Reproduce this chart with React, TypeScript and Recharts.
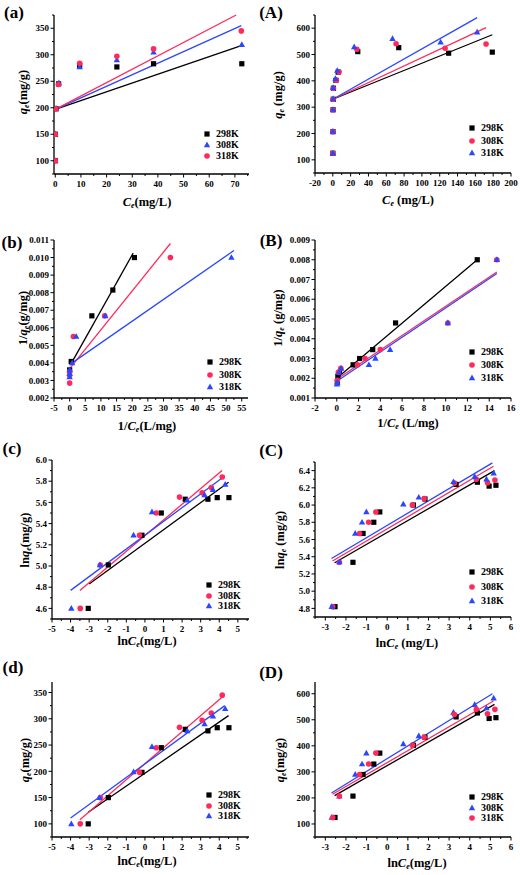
import React from 'react'
import { ScatterChart, Scatter, XAxis, YAxis, ReferenceLine, Legend } from 'recharts'

const FONT = '"Times New Roman", "Liberation Serif", serif'
const K = '#000000'
const R = '#ff2a5a'
const B = '#2a46ff'

// (a) qe vs Ce, first adsorbent
const aCe298 = [0, 0, 0.3, 1.3, 9.5, 24, 38.3, 72.7]
const aQe298 = [100, 150, 198, 245, 280, 277, 283, 283]
const aCe308 = [0, 0, 0.3, 1.4, 9.5, 24, 38.3, 72.7]
const aQe308 = [100, 150, 199, 247, 277, 290, 305, 319]
const aCe318 = [0, 0, 0.2, 1.2, 9.5, 24, 38.3, 72.5]
const aQe318 = [100, 150, 198, 244, 284, 297, 311, 345]
const aFit298 = [0, 197, 72.5, 317]
const aFit308 = [0, 197, 72.5, 355]
const aFit318 = [0, 197, 70.5, 375]

// (A) qe vs Ce, second adsorbent
const ACe298 = [0.08, 0.19, 0.3, 0.5, 0.7, 3.5, 6, 28, 74, 130, 179]
const AQe298 = [125, 207, 290, 330, 372, 402, 433, 511, 526, 505, 509]
const ACe308 = [0.07, 0.1, 0.26, 0.39, 0.55, 4, 7, 27, 71, 126, 172]
const AQe308 = [125, 207, 290, 330, 372, 402, 434, 520, 541, 524, 540]
const ACe318 = [0.07, 0.1, 0.2, 0.29, 0.35, 3, 5, 24, 67, 121, 162]
const AQe318 = [125, 208, 291, 332, 374, 408, 439, 529, 560, 547, 585]
const AFit298 = [0, 330, 179, 575]
const AFit308 = [0, 330, 172, 602]
const AFit318 = [0, 330, 162, 640]

// (b) Langmuir 1/qe vs 1/Ce
const bX298 = [0, 0.5, 7.1, 13.8, 20.7]
const bY298 = [0.0036, 0.00408, 0.00668, 0.00815, 0.01]
const bX308 = [0, 0, 0, 1.2, 11.2, 32.2]
const bY308 = [0.00285, 0.0033, 0.0035, 0.0055, 0.00668, 0.01]
const bX318 = [0, 0, 0, 0.8, 2.1, 11.4, 51.7]
const bY318 = [0.0032, 0.0034, 0.0036, 0.004, 0.0055, 0.00668, 0.01]
const bFit298 = [0.3, 0.0039, 20.3, 0.01025]
const bFit308 = [0, 0.00367, 32.2, 0.0108]
const bFit318 = [0, 0.0039, 52.5, 0.0104]

// (B)
const BX298 = [0.05, 0.1, 0.25, 1.5, 2.1, 3.3, 5.4, 12.9]
const BY298 = [0.0018, 0.0021, 0.0023, 0.00268, 0.003, 0.00345, 0.0048, 0.008]
const BX308 = [0.05, 0.15, 0.37, 1.9, 2.6, 4, 10.2, 14.7]
const BY308 = [0.0019, 0.0023, 0.0025, 0.00268, 0.003, 0.00345, 0.0048, 0.008]
const BX318 = [0.02, 0.05, 0.2, 0.4, 2.95, 3.55, 4.9, 10.2, 14.7]
const BY318 = [0.0017, 0.0018, 0.0023, 0.0025, 0.00268, 0.003, 0.00345, 0.0048, 0.008]
const BFit298 = [0, 0.002, 12.9, 0.008]
const BFit308 = [0, 0.00195, 14.7, 0.00738]
const BFit318 = [0, 0.00185, 14.7, 0.0073]

// (c) Freundlich lnqe vs lnCe
const cX298 = [-3.05, -1.97, -0.16, 0.88, 2.17, 3.39, 3.89, 4.52]
const cY298 = [4.6, 5.01, 5.29, 5.5, 5.63, 5.63, 5.645, 5.645]
const cX308 = [-3.48, -2.4, -0.29, 0.61, 1.86, 3.08, 3.57, 4.16]
const cY308 = [4.6, 5.01, 5.29, 5.5, 5.65, 5.69, 5.74, 5.84]
const cX318 = [-3.96, -2.42, -0.61, 0.38, 2.28, 3.21, 3.66, 4.32]
const cY318 = [4.6, 5.01, 5.29, 5.51, 5.62, 5.67, 5.72, 5.77]
const cFit298 = [-3, 4.83, 4.5, 5.79]
const cFit308 = [-3.5, 4.77, 4.15, 5.9]
const cFit318 = [-4, 4.77, 4.3, 5.85]

// (C)
const CX298 = [-2.53, -1.66, -1.17, -0.65, -0.36, 1.27, 1.83, 3.34, 4.37, 4.94, 5.27]
const CY298 = [4.82, 5.335, 5.67, 5.8, 5.92, 6, 6.07, 6.24, 6.265, 6.22, 6.23]
const CX308 = [-2.64, -2.32, -1.34, -0.9, -0.55, 1.22, 1.79, 3.26, 4.32, 4.86, 5.22]
const CY308 = [4.82, 5.335, 5.67, 5.8, 5.92, 6, 6.075, 6.255, 6.3, 6.26, 6.29]
const CX318 = [-2.69, -2.32, -1.55, -1.22, -1.01, 0.78, 1.53, 3.21, 4.24, 4.81, 5.16]
const CY318 = [4.82, 5.34, 5.67, 5.8, 5.92, 6.01, 6.09, 6.27, 6.33, 6.3, 6.37]
const CFit298 = [-2.55, 5.33, 5.2, 6.4]
const CFit308 = [-2.65, 5.35, 5.15, 6.45]
const CFit318 = [-2.7, 5.38, 5.1, 6.49]

// (d) Temkin qe vs lnCe
const dX298 = [-3.05, -1.97, -0.16, 0.88, 2.17, 3.39, 3.89, 4.52]
const dY298 = [100, 150, 198, 245, 280, 277, 283, 283]
const dX308 = [-3.48, -2.4, -0.29, 0.61, 1.86, 3.08, 3.57, 4.16]
const dY308 = [100, 150, 198, 245, 284, 297, 311, 345]
const dX318 = [-3.96, -2.45, -0.61, 0.38, 2.28, 3.21, 3.66, 4.32]
const dY318 = [100, 150, 199, 247, 277, 290, 305, 319]
const dFit298 = [-3.05, 122, 4.5, 306]
const dFit308 = [-3.5, 108, 4.15, 341]
const dFit318 = [-4, 111, 4.3, 325]

// (D)
const DX298 = [-2.53, -1.66, -1.17, -0.65, -0.36, 1.27, 1.83, 3.34, 4.37, 4.94, 5.27]
const DY298 = [125, 207, 290, 330, 372, 402, 433, 511, 526, 505, 508]
const DX308 = [-2.69, -2.32, -1.55, -1.22, -1.01, 0.78, 1.53, 3.21, 4.24, 4.81, 5.16]
const DY308 = [125, 207, 290, 330, 372, 407, 438, 528, 558, 545, 583]
const DX318 = [-2.64, -2.32, -1.34, -0.9, -0.55, 1.22, 1.79, 3.26, 4.32, 4.86, 5.22]
const DY318 = [125, 207, 290, 330, 372, 402, 433, 520, 540, 523, 540]
const DFit298 = [-2.55, 209, 5.2, 559]
const DFit308 = [-2.7, 219, 5.1, 600]
const DFit318 = [-2.65, 214, 5.15, 572]

// tick labels
const aXTicks = [0, 10, 20, 30, 40, 50, 60, 70]
const qTicksA = [100, 150, 200, 250, 300, 350]
const AXTicks = [-20, 0, 20, 40, 60, 80, 100, 120, 140, 160, 180, 200]
const qTicksB = [100, 200, 300, 400, 500, 600]
const bXTicks = [-5, 0, 5, 10, 15, 20, 25, 30, 35, 40, 45, 50, 55]
const bYTicks = [0.002, 0.003, 0.004, 0.005, 0.006, 0.007, 0.008, 0.009, 0.01, 0.011]
const BXTicks = [-2, 0, 2, 4, 6, 8, 10, 12, 14, 16]
const BYTicks = [0.001, 0.002, 0.003, 0.004, 0.005, 0.006, 0.007, 0.008, 0.009]
const lnXTicksA = [-5, -4, -3, -2, -1, 0, 1, 2, 3, 4, 5]
const lnXTicksB = [-3, -2, -1, 0, 1, 2, 3, 4, 5, 6]
const cYTicks = [4.6, 4.8, 5.0, 5.2, 5.4, 5.6, 5.8, 6.0]
const CYTicks = [4.8, 5.0, 5.2, 5.4, 5.6, 5.8, 6.0, 6.2, 6.4]

type Shape = 'square' | 'circle' | 'triangle'
type Ser = { name: string; color: string; shape: Shape; xs: number[]; ys: number[] }

const ML = 50
const MT = 12
const MR = 12
const MB = 34

function Mark({ cx, cy, shape, color }: { cx: number; cy: number; shape: Shape; color: string }) {
  if (shape === 'square') return <rect x={cx - 2.6} y={cy - 2.6} width={5.2} height={5.2} fill={color} />
  if (shape === 'circle') return <circle cx={cx} cy={cy} r={2.8} fill={color} />
  return <path d={`M${cx},${cy - 3.4}L${cx + 3.2},${cy + 2.3}L${cx - 3.2},${cy + 2.3}Z`} fill={color} />
}

// minor ticks halfway between the majors, plus one step past each end if it fits
function withMinor(ticks: number[], domain: number[]) {
  const step = ticks[1] - ticks[0]
  const out: number[] = []
  const first = ticks[0] - step / 2
  if (first >= domain[0] - 1e-9) out.push(first)
  ticks.forEach((t, i) => {
    out.push(t)
    out.push(i < ticks.length - 1 ? (t + ticks[i + 1]) / 2 : t + step / 2)
  })
  if (out[out.length - 1] > domain[1] + 1e-9) out.pop()
  return out.map((v) => +v.toPrecision(10))
}

const isMajor = (v: number, majors: number[]) => majors.some((m) => Math.abs(m - v) < 1e-9)

function Title({ x, y, pre, v, post, rot }: any) {
  return (
    <text
      x={x} y={y} textAnchor="middle" dominantBaseline="central"
      transform={rot ? `rotate(-90 ${x} ${y})` : undefined}
      fontFamily={FONT} fontWeight="bold" fontSize={12.5} fill="#000"
    >
      {pre}
      <tspan fontStyle="italic">{v}</tspan>
      <tspan fontStyle="italic" fontSize={8} dy={3}>e</tspan>
      <tspan dy={-3}>{post}</tspan>
    </text>
  )
}

type Cfg = {
  tag: string; tagX: number; tagY: number
  box: number[]
  xDomain: number[]; yDomain: number[]
  xTicks: number[]; yTicks: number[]; yDec: number
  series: Ser[]
  fits: [string, number[]][]
  legend: number[]
  xTitle: any[]; yTitle: any[]
}

const panels: Cfg[] = [
  {
    tag: '(a)', tagX: 14, tagY: 12, box: [54, 15, 249, 174],
    xDomain: [-0.5, 75.5], yDomain: [75, 375], xTicks: aXTicks, yTicks: qTicksA, yDec: 0,
    series: [
      { name: '298K', color: K, shape: 'square', xs: aCe298, ys: aQe298 },
      { name: '308K', color: B, shape: 'triangle', xs: aCe308, ys: aQe308 },
      { name: '318K', color: R, shape: 'circle', xs: aCe318, ys: aQe318 },
    ],
    fits: [[K, aFit298], [B, aFit308], [R, aFit318]],
    legend: [207, 134, 11],
    xTitle: ['', 'C', '(mg/L)', 147, 202], yTitle: ['', 'q', '(mg/g)', 23, 92],
  },
  {
    tag: '(A)', tagX: 271, tagY: 12, box: [315, 15, 511, 173],
    xDomain: [-20, 200], yDomain: [50, 650], xTicks: AXTicks, yTicks: qTicksB, yDec: 0,
    series: [
      { name: '298K', color: K, shape: 'square', xs: ACe298, ys: AQe298 },
      { name: '308K', color: R, shape: 'circle', xs: ACe308, ys: AQe308 },
      { name: '318K', color: B, shape: 'triangle', xs: ACe318, ys: AQe318 },
    ],
    fits: [[K, AFit298], [R, AFit308], [B, AFit318]],
    legend: [472, 128, 12.5],
    xTitle: ['', 'C', ' (mg/L)', 408, 200], yTitle: ['', 'q', ' (mg/g)', 278, 95],
  },
  {
    tag: '(b)', tagX: 12, tagY: 242, box: [54, 240, 248, 398],
    xDomain: [-5, 57], yDomain: [0.002, 0.011], xTicks: bXTicks, yTicks: bYTicks, yDec: 3,
    series: [
      { name: '298K', color: K, shape: 'square', xs: bX298, ys: bY298 },
      { name: '308K', color: R, shape: 'circle', xs: bX308, ys: bY308 },
      { name: '318K', color: B, shape: 'triangle', xs: bX318, ys: bY318 },
    ],
    fits: [[K, bFit298], [R, bFit308], [B, bFit318]],
    legend: [210, 362, 12.5],
    xTitle: ['1/', 'C', '(L/mg)', 147, 426], yTitle: ['1/', 'q', '(g/mg)', 23, 318],
  },
  {
    tag: '(B)', tagX: 271, tagY: 240, box: [315, 240, 511, 398],
    xDomain: [-2, 16], yDomain: [0.001, 0.009], xTicks: BXTicks, yTicks: BYTicks, yDec: 3,
    series: [
      { name: '298K', color: K, shape: 'square', xs: BX298, ys: BY298 },
      { name: '308K', color: R, shape: 'circle', xs: BX308, ys: BY308 },
      { name: '318K', color: B, shape: 'triangle', xs: BX318, ys: BY318 },
    ],
    fits: [[K, BFit298], [R, BFit308], [B, BFit318]],
    legend: [472, 352, 13],
    xTitle: ['1/', 'C', ' (L/mg)', 408, 423], yTitle: ['1/', 'q', ' (g/mg)', 278, 318],
  },
  {
    tag: '(c)', tagX: 12, tagY: 448, box: [52, 460, 249, 619],
    xDomain: [-5, 5.6], yDomain: [4.5, 6.0], xTicks: lnXTicksA, yTicks: cYTicks, yDec: 1,
    series: [
      { name: '298K', color: K, shape: 'square', xs: cX298, ys: cY298 },
      { name: '308K', color: R, shape: 'circle', xs: cX308, ys: cY308 },
      { name: '318K', color: B, shape: 'triangle', xs: cX318, ys: cY318 },
    ],
    fits: [[K, cFit298], [R, cFit308], [B, cFit318]],
    legend: [209, 585, 10.5],
    xTitle: ['ln', 'C', '(mg/L)', 147, 641], yTitle: ['ln', 'q', '(mg/g)', 25, 540],
  },
  {
    tag: '(C)', tagX: 271, tagY: 450, box: [315, 462, 511, 617],
    xDomain: [-3.5, 6], yDomain: [4.7, 6.5], xTicks: lnXTicksB, yTicks: CYTicks, yDec: 1,
    series: [
      { name: '298K', color: K, shape: 'square', xs: CX298, ys: CY298 },
      { name: '308K', color: R, shape: 'circle', xs: CX308, ys: CY308 },
      { name: '318K', color: B, shape: 'triangle', xs: CX318, ys: CY318 },
    ],
    fits: [[K, CFit298], [R, CFit308], [B, CFit318]],
    legend: [472, 572, 14.5],
    xTitle: ['ln', 'C', ' (mg/L)', 407, 643], yTitle: ['ln', 'q', ' (mg/g)', 280, 540],
  },
  {
    tag: '(d)', tagX: 13, tagY: 667, box: [52, 682, 249, 837],
    xDomain: [-5, 5.6], yDomain: [75, 370], xTicks: lnXTicksA, yTicks: qTicksA, yDec: 0,
    series: [
      { name: '298K', color: K, shape: 'square', xs: dX298, ys: dY298 },
      { name: '308K', color: R, shape: 'circle', xs: dX308, ys: dY308 },
      { name: '318K', color: B, shape: 'triangle', xs: dX318, ys: dY318 },
    ],
    fits: [[K, dFit298], [R, dFit308], [B, dFit318]],
    legend: [209, 795, 10.5],
    xTitle: ['ln', 'C', '(mg/L)', 147, 861], yTitle: ['', 'q', '(mg/g)', 25, 760],
  },
  {
    tag: '(D)', tagX: 271, tagY: 672, box: [315, 682, 511, 837],
    xDomain: [-3.5, 6], yDomain: [50, 645], xTicks: lnXTicksB, yTicks: qTicksB, yDec: 0,
    series: [
      { name: '298K', color: K, shape: 'square', xs: DX298, ys: DY298 },
      { name: '308K', color: B, shape: 'triangle', xs: DX308, ys: DY308 },
      { name: '318K', color: R, shape: 'circle', xs: DX318, ys: DY318 },
    ],
    fits: [[K, DFit298], [B, DFit308], [R, DFit318]],
    legend: [472, 797, 10.5],
    xTitle: ['ln', 'C', '(mg/L)', 417, 863], yTitle: ['', 'q', '(mg/g)', 280, 760],
  },
]

function Panel({ p }: { p: Cfg }) {
  const [l, t, r, b] = p.box
  const w = r - l
  const h = b - t
  const ox = l - ML
  const oy = t - MT
  const xAll = withMinor(p.xTicks, p.xDomain)
  const yAll = withMinor(p.yTicks, p.yDomain)
  const base = MT + h
  const txt = { fontFamily: FONT, fontWeight: 'bold' as const, fontSize: 9, fill: '#000' }

  const xTick = (tp: any) => {
    const v = tp.payload.value
    const major = isMajor(v, p.xTicks)
    return (
      <g>
        <line x1={tp.x} x2={tp.x} y1={base} y2={base + (major ? 3.5 : 2)} stroke="#000" strokeWidth={1} />
        {major && <text x={tp.x} y={base + 12.5} textAnchor="middle" {...txt}>{String(v)}</text>}
      </g>
    )
  }
  const yTick = (tp: any) => {
    const v = tp.payload.value
    const major = isMajor(v, p.yTicks)
    return (
      <g>
        <line x1={ML} x2={ML - (major ? 3.5 : 2)} y1={tp.y} y2={tp.y} stroke="#000" strokeWidth={1} />
        {major && <text x={ML - 5} y={tp.y + 3.2} textAnchor="end" {...txt}>{v.toFixed(p.yDec)}</text>}
      </g>
    )
  }

  const [lx, ly, gap] = p.legend
  const legend = () => (
    <div style={{ fontFamily: FONT, fontWeight: 'bold', fontSize: 10, color: '#000' }}>
      {p.series.map((s) => (
        <div key={s.name} style={{ display: 'flex', alignItems: 'center', height: gap }}>
          <svg width={10} height={8} style={{ display: 'block' }}>
            <Mark cx={5} cy={4} shape={s.shape} color={s.color} />
          </svg>
          <span style={{ marginLeft: 4, lineHeight: 1 }}>{s.name}</span>
        </div>
      ))}
    </div>
  )

  return (
    <div style={{ position: 'absolute', left: ox, top: oy }}>
      <ScatterChart width={w + ML + MR} height={h + MT + MB} margin={{ top: MT, right: MR, bottom: 0, left: 0 }}>
        <XAxis
          type="number" dataKey="x" domain={p.xDomain} ticks={xAll} interval={0} allowDataOverflow
          height={MB} tickLine={false} tick={xTick} axisLine={{ stroke: '#000', strokeWidth: 1.3 }}
        />
        <YAxis
          type="number" dataKey="y" domain={p.yDomain} ticks={yAll} interval={0} allowDataOverflow
          width={ML} tickLine={false} tick={yTick} axisLine={{ stroke: '#000', strokeWidth: 1.3 }}
        />
        <XAxis
          xAxisId="top" orientation="top" type="number" domain={p.xDomain} allowDataOverflow
          height={0} tick={false} tickLine={false} axisLine={{ stroke: '#000', strokeWidth: 1.3 }}
        />
        <YAxis
          yAxisId="right" orientation="right" type="number" domain={p.yDomain} allowDataOverflow
          width={0} tick={false} tickLine={false} axisLine={{ stroke: '#000', strokeWidth: 1.3 }}
        />
        {p.series.map((s) => (
          <Scatter
            key={s.name}
            name={s.name}
            data={s.xs.map((x, i) => ({ x, y: s.ys[i] }))}
            fill={s.color}
            isAnimationActive={false}
            shape={(sp: any) => <Mark cx={sp.cx} cy={sp.cy} shape={s.shape} color={s.color} />}
          />
        ))}
        {p.fits.map(([c, f], i) => (
          <ReferenceLine
            key={i}
            segment={[{ x: f[0], y: f[1] }, { x: f[2], y: f[3] }]}
            stroke={c}
            strokeWidth={1.3}
            ifOverflow="visible"
          />
        ))}
        <Legend
          layout="horizontal" verticalAlign="middle" align="center"
          content={legend}
          wrapperStyle={{ left: lx - ox - 5, top: ly - oy - gap / 2, width: 'auto', height: 'auto' }}
        />
      </ScatterChart>
    </div>
  )
}

export default function App() {
  return (
    <div style={{ position: 'absolute', left: 0, top: 0, width: 520, height: 875, background: '#fff' }}>
      {panels.map((p) => (
        <Panel key={p.tag} p={p} />
      ))}
      <svg width={520} height={875} style={{ position: 'absolute', left: 0, top: 0, pointerEvents: 'none' }}>
        {panels.map((p) => (
          <g key={p.tag}>
            <text x={p.tagX} y={p.tagY} textAnchor="middle" dominantBaseline="central" fontFamily={FONT} fontWeight="bold" fontSize={17}>
              {p.tag}
            </text>
            <Title x={p.xTitle[3]} y={p.xTitle[4]} pre={p.xTitle[0]} v={p.xTitle[1]} post={p.xTitle[2]} />
            <Title x={p.yTitle[3]} y={p.yTitle[4]} pre={p.yTitle[0]} v={p.yTitle[1]} post={p.yTitle[2]} rot />
          </g>
        ))}
      </svg>
    </div>
  )
}
